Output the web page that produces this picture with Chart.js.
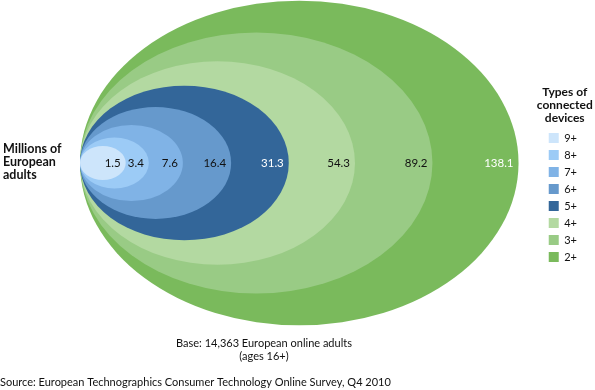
<!DOCTYPE html>
<html>
<head>
<meta charset="utf-8">
<script src="https://cdn.jsdelivr.net/npm/chart.js@4/dist/chart.umd.min.js"></script>
<style>
  html, body { margin: 0; padding: 0; background: #fff; }
  #wrap { width: 595px; height: 390px; }
</style>
</head>
<body>
<div id="wrap"><canvas id="devices_chart" width="595" height="390"></canvas></div>
<script>
// data
var deviceTypes = ['9+', '8+', '7+', '6+', '5+', '4+', '3+', '2+'];
var adultsMillions = [1.5, 3.4, 7.6, 16.4, 31.3, 54.3, 89.2, 138.1];
var legendTitle = ['Types of', 'connected', 'devices'];
var sideLabel = ['Millions of', 'European', 'adults'];

// styles
var bandColors = ['#cde5fb', '#9ccbf6', '#80b3e6', '#6699cc', '#336699', '#b3d9a1', '#99cb85', '#7aba5c'];
var valueColors = ['#111', '#111', '#111', '#111', '#fff', '#111', '#111', '#fff'];

var FONT = 'Lato';

// every ellipse starts at x=0 and its area goes with the value (sqrt scale)
var datasets = [];
for (let i = 0; i < deviceTypes.length; i++) {
    datasets.push({
        label: deviceTypes[i],
        data: [{x: Math.sqrt(adultsMillions[i]), y: 0}],
        backgroundColor: bandColors[i],
        borderColor: bandColors[i],
        borderWidth: 0,
        pointRadius: 0,
        pointHoverRadius: 0
    });
}

var ellipsePlugin = {
    id: 'ellipses',
    beforeDatasetsDraw: function (chart) {
        var ctx = chart.ctx;
        var xs = chart.scales.x, ys = chart.scales.y;
        ctx.save();
        for (let i = chart.data.datasets.length - 1; i >= 0; i--) {
            var ds = chart.data.datasets[i];
            var edge = ds.data[0].x;
            var left = xs.getPixelForValue(0);
            var right = xs.getPixelForValue(edge);
            var cy = ys.getPixelForValue(0);
            var ry = cy - ys.getPixelForValue(edge / 2);
            ctx.beginPath();
            ctx.ellipse((left + right) / 2, cy, (right - left) / 2, ry, 0, 0, Math.PI * 2);
            ctx.fillStyle = ds.backgroundColor;
            ctx.fill();
        }
        // value labels, right aligned inside each band
        ctx.font = '11.5px ' + FONT;
        ctx.textAlign = 'right';
        ctx.textBaseline = 'middle';
        for (let i = 0; i < chart.data.datasets.length; i++) {
            var d = chart.data.datasets[i].data[0];
            ctx.fillStyle = valueColors[i];
            ctx.fillText(adultsMillions[i].toFixed(1), xs.getPixelForValue(d.x) - 5, ys.getPixelForValue(0));
        }
        ctx.restore();
    },
    afterDraw: function (chart) {
        var ctx = chart.ctx;
        var lg = chart.legend;
        ctx.save();
        ctx.fillStyle = '#111';
        ctx.textBaseline = 'middle';
        ctx.font = 'bold 12.5px ' + FONT;
        ctx.textAlign = 'left';
        for (let i = 0; i < sideLabel.length; i++) {
            ctx.fillText(sideLabel[i], 3, 149 + i * 13);
        }
        // legend title drawn here so it is not clipped by the narrow legend box
        ctx.font = 'bold 12px ' + FONT;
        ctx.textAlign = 'center';
        for (let i = 0; i < legendTitle.length; i++) {
            ctx.fillText(legendTitle[i], lg.left + 22, lg.top + 92 + i * 13);
        }

        ctx.font = '11px ' + FONT;
        ctx.fillText('Base: 14,363 European online adults', 264, 343);
        ctx.fillText('(ages 16+)', 264, 356);
        ctx.textAlign = 'left';
        ctx.fillText('Source: European Technographics Consumer Technology Online Survey, Q4 2010', 0, 382);
        ctx.restore();
    }
};

var ctx = document.getElementById('devices_chart').getContext('2d');
var devicesChart = new Chart(ctx, {
    type: 'scatter',
    data: {datasets: datasets},
    plugins: [ellipsePlugin],
    options: {
        responsive: false,
        animation: false,
        events: [],
        layout: {padding: {left: 80, right: 8, top: 0, bottom: 64}},
        scales: {
            x: {type: 'linear', display: false, min: 0, max: 12.4},
            y: {type: 'linear', display: false, min: -5.9, max: 5.9}
        },
        plugins: {
            tooltip: {enabled: false},
            legend: {
                position: 'right',
                align: 'start',
                // empty title only reserves the room above the items
                title: {
                    display: true,
                    text: '',
                    font: {family: FONT, size: 11, lineHeight: 1.2},
                    padding: {top: 86.5, bottom: 26.8}
                },
                labels: {
                    boxWidth: 10,
                    boxHeight: 10,
                    padding: 6,
                    color: '#111',
                    font: {family: FONT, size: 11}
                }
            }
        }
    }
});
</script>
</body>
</html>
